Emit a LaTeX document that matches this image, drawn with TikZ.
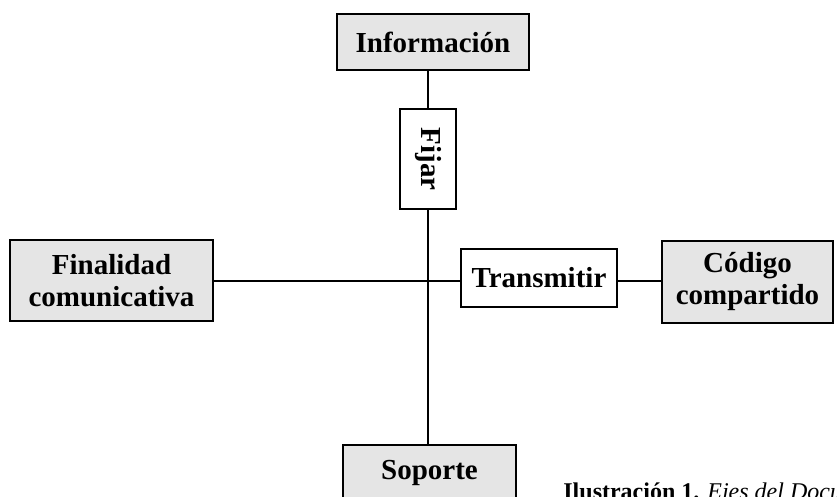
\documentclass[tikz,border=0pt]{standalone}
\usepackage{fontspec}
\setmainfont{Liberation Serif}
\usetikzlibrary{calc}

\begin{document}
\begin{tikzpicture}[x=0.5pt,y=-0.5pt,
  eje/.style={fill=black!10, draw=black, line width=0.7pt, inner sep=0pt, align=center,
    font=\fontsize{14.5}{16}\selectfont\bfseries},
  verbo/.style={fill=white, draw=black, line width=0.7pt, inner sep=0pt,
    font=\fontsize{14.5}{16}\selectfont\bfseries},
  axis/.style={line width=1.3pt}]

 \useasboundingbox (0,0) rectangle (837,497);
 \clip (0,0) rectangle (837,497);

 \coordinate (mid) at (428,281);

 % ejes
 \node[eje, minimum width=96pt, minimum height=28pt] (info) at (433,42) {Información};
 \node[eje, minimum width=101.5pt, minimum height=40.5pt] (fin) at (111.5,280.5) {Finalidad\\comunicativa};
 \node[eje, minimum width=85.5pt, minimum height=41pt] (cod) at (747.5,282) {Código\\compartido};
 \node[eje, minimum width=86.5pt, minimum height=28pt] (sop) at (429.5,473) {Soporte};

 % verbos
 \node[verbo, rotate=-90, minimum width=50pt, minimum height=28pt] (fijar) at (428,159) {Fijar};
 \node[verbo, minimum width=78pt, minimum height=29pt] (trans) at (539,278) {Transmitir};

 % lineas
 \draw[axis] (mid |- info.south) -- (mid |- fijar.west);
 \draw[axis] (mid |- fijar.east) -- (mid |- sop.north);
 \draw[axis] (fin.east |- mid) -- (trans.west |- mid);
 \draw[axis] (trans.east |- mid) -- (cod.west |- mid);

 \node[anchor=base west, inner sep=0pt, font=\fontsize{12}{14}\selectfont] (cap) at (563,500)
   {\textbf{Ilustración 1.} \textit{Ejes del Docu}};

\end{tikzpicture}
\end{document}
